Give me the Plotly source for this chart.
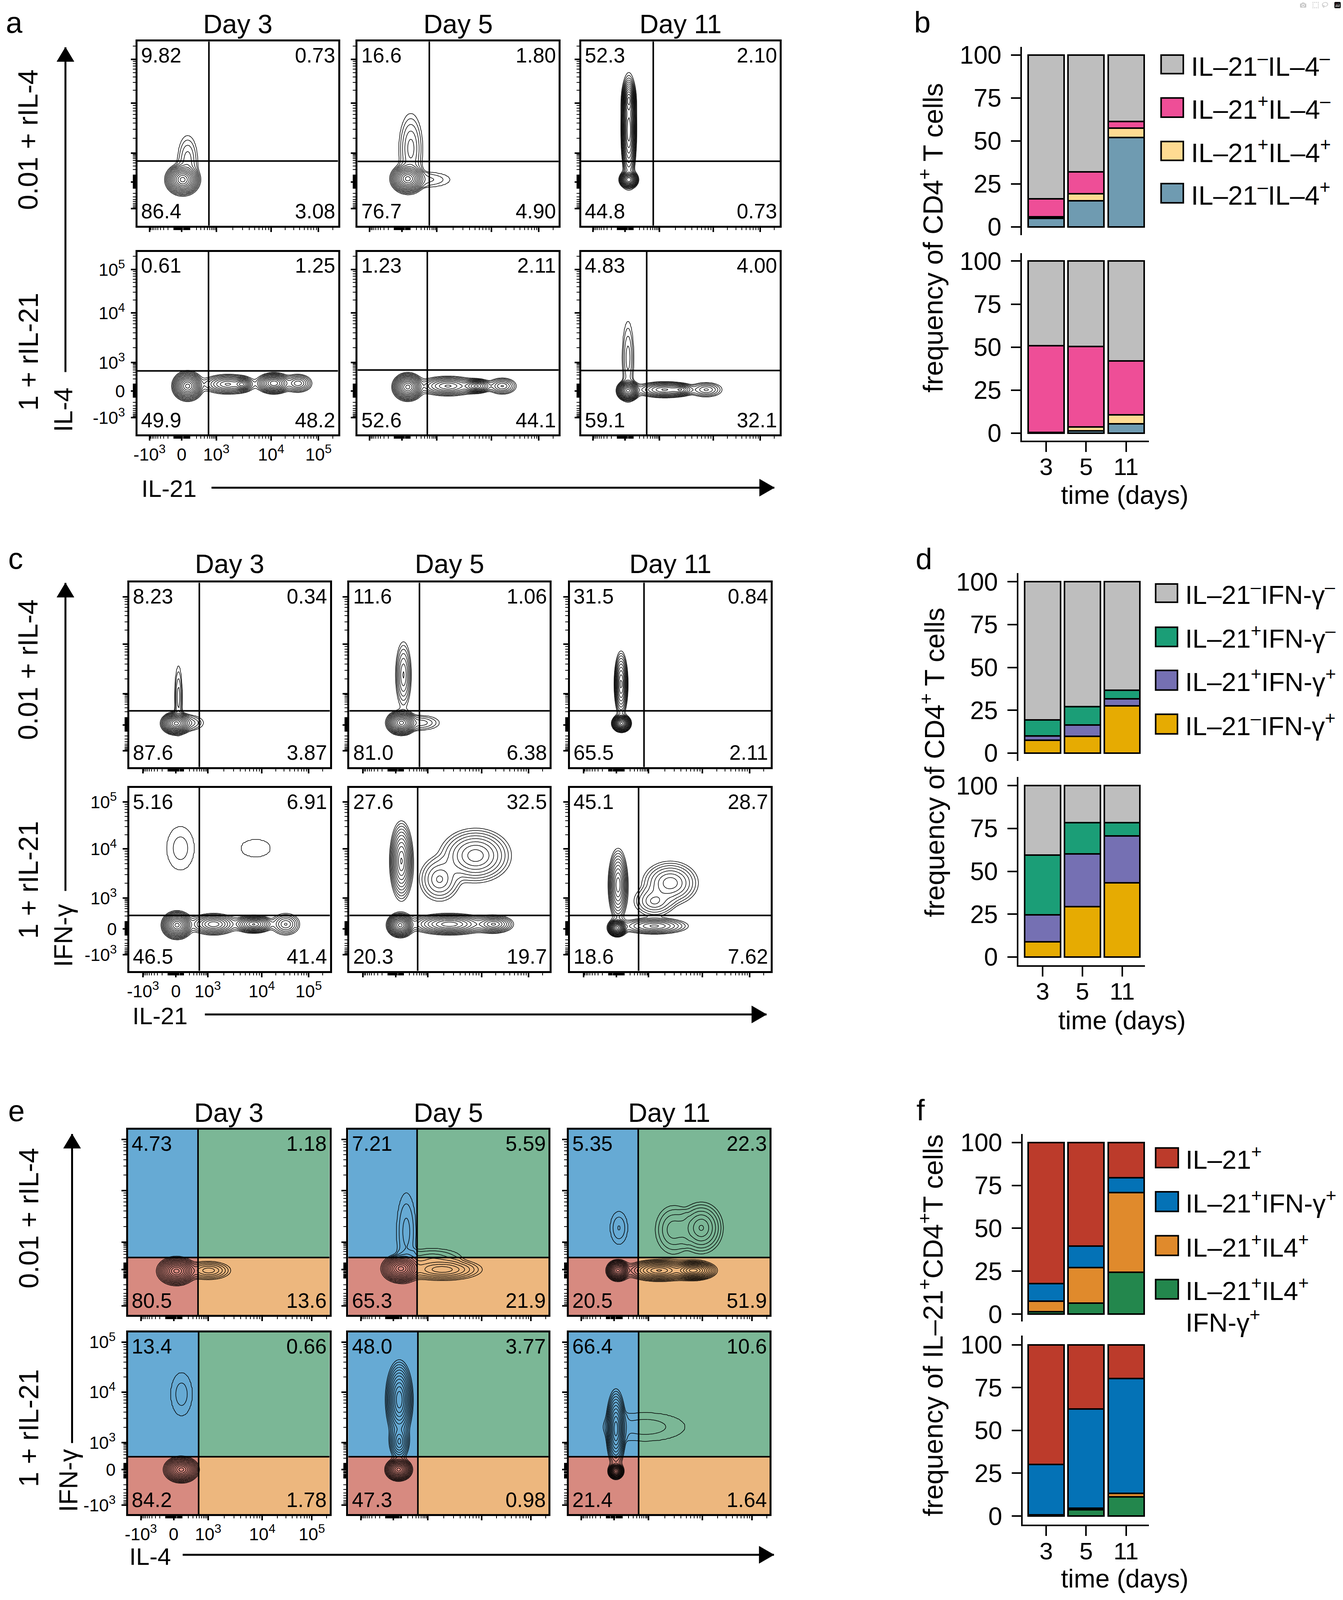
import numpy as np
import plotly.graph_objects as go

W, H_REF = 3438, 4447          # reference geometry (all pixel positions below are in these units)
H = 4096                       # visible height of the photographed page
FONT = "Liberation Sans, Arial, Helvetica, sans-serif"

# ======================= DATA =======================
DAYS = ["Day 3", "Day 5", "Day 11"]
TREATMENTS = ["0.01 + rIL-4", "1 + rIL-21"]
TIME = ["3", "5", "11"]
FLOW_TICK_VALUES = [-1e3, 0, 1e3, 1e4, 1e5]
FLOW_TICK_TEXT = ["-10<sup>3</sup>", "0", "10<sup>3</sup>", "10<sup>4</sup>", "10<sup>5</sup>"]

# quadrant percentages (upper-left, upper-right, lower-left, lower-right)
A_QUAD = [[("9.82", "0.73", "86.4", "3.08"), ("16.6", "1.80", "76.7", "4.90"), ("52.3", "2.10", "44.8", "0.73")],
          [("0.61", "1.25", "49.9", "48.2"), ("1.23", "2.11", "52.6", "44.1"), ("4.83", "4.00", "59.1", "32.1")]]
C_QUAD = [[("8.23", "0.34", "87.6", "3.87"), ("11.6", "1.06", "81.0", "6.38"), ("31.5", "0.84", "65.5", "2.11")],
          [("5.16", "6.91", "46.5", "41.4"), ("27.6", "32.5", "20.3", "19.7"), ("45.1", "28.7", "18.6", "7.62")]]
E_QUAD = [[("4.73", "1.18", "80.5", "13.6"), ("7.21", "5.59", "65.3", "21.9"), ("5.35", "22.3", "20.5", "51.9")],
          [("13.4", "0.66", "84.2", "1.78"), ("48.0", "3.77", "47.3", "0.98"), ("66.4", "10.6", "21.4", "1.64")]]

# cell populations: (x, y, half-width x, half-width y, peak) in display units
A_POP_RIL4 = [
    [(0.225, 0.25, 0.09, 0.09, 1.0), (0.25, 0.36, 0.05, 0.13, 0.02)],
    [(0.25, 0.255, 0.09, 0.085, 1.0), (0.265, 0.42, 0.06, 0.19, 0.03), (0.36, 0.25, 0.10, 0.04, 0.01)],
    [(0.24, 0.25, 0.05, 0.05, 0.8), (0.24, 0.52, 0.04, 0.30, 0.5), (0.24, 0.68, 0.035, 0.12, 0.6)],
]
A_POP_RIL21 = [
    [(0.25, 0.265, 0.08, 0.085, 1.0), (0.45, 0.275, 0.13, 0.055, 0.15), (0.52, 0.275, 0.05, 0.04, 0.25),
     (0.68, 0.28, 0.09, 0.06, 0.5), (0.80, 0.28, 0.07, 0.05, 0.08)],
    [(0.25, 0.26, 0.08, 0.08, 1.0), (0.45, 0.265, 0.15, 0.055, 0.15), (0.59, 0.265, 0.08, 0.04, 0.25),
     (0.72, 0.265, 0.07, 0.045, 0.06)],
    [(0.236, 0.24, 0.06, 0.06, 1.0), (0.236, 0.42, 0.03, 0.20, 0.02), (0.42, 0.245, 0.15, 0.045, 0.15),
     (0.50, 0.245, 0.06, 0.03, 0.12), (0.63, 0.245, 0.08, 0.04, 0.04)],
]
C_POP_RIL4 = [
    [(0.234, 0.237, 0.08, 0.065, 1.0), (0.245, 0.38, 0.02, 0.17, 0.02), (0.30, 0.24, 0.07, 0.04, 0.02)],
    [(0.26, 0.24, 0.08, 0.07, 1.0), (0.27, 0.50, 0.04, 0.18, 0.06), (0.36, 0.24, 0.09, 0.04, 0.02)],
    [(0.257, 0.237, 0.05, 0.05, 1.0), (0.255, 0.45, 0.035, 0.18, 0.25)],
]
C_POP_RIL21 = [
    [(0.238, 0.25, 0.08, 0.08, 1.0), (0.42, 0.255, 0.12, 0.06, 0.2), (0.62, 0.255, 0.10, 0.05, 0.35),
     (0.78, 0.255, 0.07, 0.06, 0.06), (0.255, 0.67, 0.07, 0.12, 0.008), (0.63, 0.67, 0.075, 0.05, 0.005)],
    [(0.254, 0.25, 0.07, 0.07, 1.0), (0.26, 0.60, 0.06, 0.22, 0.35), (0.50, 0.255, 0.20, 0.06, 0.3),
     (0.72, 0.255, 0.10, 0.05, 0.15), (0.63, 0.63, 0.18, 0.15, 0.12), (0.45, 0.50, 0.10, 0.12, 0.04)],
    [(0.236, 0.235, 0.05, 0.05, 1.0), (0.24, 0.47, 0.05, 0.20, 0.3), (0.42, 0.245, 0.17, 0.045, 0.1),
     (0.50, 0.48, 0.14, 0.12, 0.08), (0.42, 0.38, 0.10, 0.08, 0.04)],
]
E_POP_RIL4 = [
    [(0.24, 0.237, 0.10, 0.08, 1.0), (0.40, 0.24, 0.11, 0.05, 0.05)],
    [(0.263, 0.25, 0.10, 0.08, 1.0), (0.47, 0.245, 0.20, 0.06, 0.08), (0.29, 0.45, 0.05, 0.21, 0.012),
     (0.42, 0.31, 0.14, 0.05, 0.012)],
    [(0.245, 0.24, 0.06, 0.06, 1.0), (0.45, 0.24, 0.17, 0.06, 0.35), (0.62, 0.24, 0.12, 0.055, 0.7),
     (0.25, 0.47, 0.045, 0.09, 0.01), (0.66, 0.47, 0.11, 0.14, 0.06), (0.52, 0.46, 0.09, 0.13, 0.02)],
]
E_POP_RIL21 = [
    [(0.264, 0.245, 0.09, 0.075, 1.0), (0.265, 0.66, 0.055, 0.12, 0.008)],
    [(0.252, 0.245, 0.07, 0.065, 1.0), (0.255, 0.63, 0.07, 0.22, 0.5), (0.255, 0.40, 0.05, 0.10, 0.1)],
    [(0.235, 0.236, 0.04, 0.045, 1.0), (0.235, 0.47, 0.05, 0.22, 0.45), (0.38, 0.48, 0.20, 0.08, 0.008)],
]

# gate positions (display units)
A_GATE_X = [[0.356, 0.357, 0.363], [0.354, 0.347, 0.33]]
A_GATE_Y = [[0.351, 0.349, 0.35], [0.348, 0.353, 0.35]]
C_GATE_X = [[0.349, 0.35, 0.369], [0.349, 0.341, 0.342]]
C_GATE_Y = [[0.305, 0.305, 0.305], [0.303, 0.303, 0.303]]
E_GATE_X = [[0.347, 0.344, 0.346], [0.35, 0.348, 0.348]]
E_GATE_Y = [[0.31, 0.31, 0.31], [0.316, 0.316, 0.316]]

# stacked bars (%), bottom segment first
B_LABELS = ["IL–21<sup>–</sup>IL–4<sup>+</sup>", "IL–21<sup>+</sup>IL–4<sup>+</sup>",
            "IL–21<sup>+</sup>IL–4<sup>–</sup>", "IL–21<sup>–</sup>IL–4<sup>–</sup>"]
B_RIL4_IL21nIL4p = [5.0, 15.2, 51.9]
B_RIL4_IL21pIL4p = [0.8, 4.2, 5.6]
B_RIL4_IL21pIL4n = [10.6, 12.6, 3.8]
B_RIL4_IL21nIL4n = [83.6, 68.0, 38.7]
B_RIL21_IL21nIL4p = [0.2, 1.3, 5.5]
B_RIL21_IL21pIL4p = [0.3, 2.3, 5.2]
B_RIL21_IL21pIL4n = [50.3, 46.8, 31.2]
B_RIL21_IL21nIL4n = [49.2, 49.6, 58.1]

D_LABELS = ["IL–21<sup>–</sup>IFN-γ<sup>+</sup>", "IL–21<sup>+</sup>IFN-γ<sup>+</sup>",
            "IL–21<sup>+</sup>IFN-γ<sup>–</sup>", "IL–21<sup>–</sup>IFN-γ<sup>–</sup>"]
D_RIL4_IL21nIFNp = [7.6, 9.9, 27.5]
D_RIL4_IL21pIFNp = [2.4, 6.6, 4.1]
D_RIL4_IL21pIFNn = [9.3, 10.6, 5.0]
D_RIL4_IL21nIFNn = [80.7, 72.9, 63.4]
D_RIL21_IL21nIFNp = [8.9, 29.4, 43.3]
D_RIL21_IL21pIFNp = [15.8, 30.8, 27.3]
D_RIL21_IL21pIFNn = [34.8, 18.2, 7.7]
D_RIL21_IL21nIFNn = [40.5, 21.6, 21.7]

F_LABELS = ["IL–21<sup>+</sup>IL4<sup>+</sup>", "IL–21<sup>+</sup>IL4<sup>+</sup>",
            "IL–21<sup>+</sup>IFN-γ<sup>+</sup>", "IL–21<sup>+</sup>"]
F_RIL4_TRIPLE = [1.5, 6.5, 24.4]
F_RIL4_IL4 = [6.0, 20.6, 46.3]
F_RIL4_IFN = [10.4, 12.6, 8.8]
F_RIL4_ONLY = [82.1, 60.3, 20.5]
F_RIL21_TRIPLE = [0.3, 3.7, 11.2]
F_RIL21_IL4 = [0.3, 1.0, 2.1]
F_RIL21_IFN = [29.5, 57.9, 66.9]
F_RIL21_ONLY = [69.9, 37.4, 19.8]

# ======================= STYLE / LAYOUT =======================
B_COLORS = ["#6f9bb1", "#fedb92", "#ee4e97", "#bebebe"]
D_COLORS = ["#e6ab02", "#7570b3", "#1b9e77", "#bebebe"]
F_COLORS = ["#23874d", "#e08a2c", "#0472b6", "#bc3b2b"]
E_BG = dict(ul="#66aad4", ur="#7bb796", ll="#d78a80", lr="#edb77e")

LMIN = -2.4
GRID = np.linspace(0, 1, 171)


def px_x(p):
    return p / W


def px_y(p):
    return 1 - p / H_REF


def density(pops):
    X, Y = np.meshgrid(GRID, GRID)
    tot = np.zeros_like(X)
    for cx, cy, ex, ey, a in pops:
        r = np.sqrt(((X - cx) / ex) ** 2 + ((Y - cy) / ey) ** 2)
        la = np.log10(a)
        ld = np.where(r <= 1, la - (la - LMIN) * r ** 1.5, LMIN - 2.5 * (r - 1))
        tot += 10 ** ld
    z = np.log10(tot)
    return np.round(np.clip(z, -5, 1), 3)


def scale_fn(p):
    pm, p0, p3, p4, p5 = p
    a = np.arcsinh(1000 / 150)

    def tf(v):
        if v >= 1e4:
            return p4 + (p5 - p4) * np.log10(v / 1e4)
        if v >= 1e3:
            return p3 + (p4 - p3) * np.log10(v / 1e3)
        if v >= 0:
            return p0 + (p3 - p0) * np.arcsinh(v / 150) / a
        return p0 - (p0 - pm) * np.arcsinh(-v / 150) / a
    return tf


def minor_positions(p):
    tf = scale_fn(p)
    vals = [s * m * 10 for m in range(1, 10) for s in (1, -1)]
    vals += [s * m * 100 for m in range(1, 10) for s in (1, -1)]
    vals += [m * 1e3 for m in range(2, 10)] + [m * 1e4 for m in range(2, 10)] + [2e5]
    out = [float(tf(v)) for v in vals]
    return [round(v, 4) for v in out if 0.002 < v < 0.998]


fig = go.Figure()
layout = dict(width=W, height=H, margin=dict(l=0, r=0, t=0, b=0), autosize=False,
              paper_bgcolor="white", plot_bgcolor="white", barmode="stack", showlegend=False,
              font=dict(family=FONT, color="black"))
shapes = []
annotations = []
idx = [0]


def new_axes():
    idx[0] += 1
    s = "" if idx[0] == 1 else str(idx[0])
    return "x" + s, "y" + s, "xaxis" + s, "yaxis" + s


def add_text(x, y, text, size, xanchor="center", yanchor="middle", angle=0, xref="paper", yref="paper"):
    annotations.append(dict(x=x, y=y, xref=xref, yref=yref, text=text, showarrow=False,
                            xanchor=xanchor, yanchor=yanchor, textangle=angle,
                            font=dict(family=FONT, size=size, color="black")))


def arrow(x0, y0, x1, y1, vertical):
    shapes.append(dict(type="line", xref="paper", yref="paper", x0=px_x(x0), y0=px_y(y0),
                       x1=px_x(x1), y1=px_y(y1), line=dict(color="black", width=5)))
    if vertical:
        path = "M {} {} L {} {} L {} {} Z".format(px_x(x1), px_y(y1), px_x(x1 - 22), px_y(y1 + 40),
                                                  px_x(x1 + 22), px_y(y1 + 40))
    else:
        path = "M {} {} L {} {} L {} {} Z".format(px_x(x1), px_y(y1), px_x(x1 - 38), px_y(y1 - 24),
                                                  px_x(x1 - 38), px_y(y1 + 24))
    shapes.append(dict(type="path", xref="paper", yref="paper", path=path, fillcolor="black",
                       line=dict(color="black", width=1)))


FLOW_PANELS = [
    dict(letter="a", letter_xy=(27, 47), quads=A_QUAD, pops=[A_POP_RIL4, A_POP_RIL21], gx=A_GATE_X, gy=A_GATE_Y,
         cols=[(343, 858), (908, 1424), (1482, 1992)], rows=[(100, 616), (689, 1201)],
         xt=[0.06, 0.22, 0.393, 0.666, 0.902], yt=[0.092, 0.238, 0.394, 0.665, 0.903],
         title_y=50, colored=False, row_label_xy=[(62, 375), (64, 969)], yname="IL-4", yname_xy=(153, 1132),
         yarrow=(158, 1026, 116), xname="IL-21", xname_xy=(424, 1352), xarrow=(533, 1978, 1350)),
    dict(letter="c", letter_xy=(30, 1548), quads=C_QUAD, pops=[C_POP_RIL4, C_POP_RIL21], gx=C_GATE_X, gy=C_GATE_Y,
         cols=[(322, 837), (887, 1401), (1453, 1969)], rows=[(1616, 2133), (2191, 2704)],
         xt=[0.068, 0.232, 0.391, 0.66, 0.894], yt=[0.089, 0.229, 0.397, 0.666, 0.922],
         title_y=1563, colored=False, row_label_xy=[(63, 1860), (63, 2449)], yname="IFN-γ", yname_xy=(153, 2605),
         yarrow=(158, 2480, 1617), xname="IL-21", xname_xy=(401, 2830), xarrow=(516, 1958, 2826)),
    dict(letter="e", letter_xy=(32, 3096), quads=E_QUAD, pops=[E_POP_RIL4, E_POP_RIL21], gx=E_GATE_X, gy=E_GATE_Y,
         cols=[(319, 836), (884, 1398), (1450, 1966)], rows=[(3149, 3668), (3717, 4226)],
         xt=[0.063, 0.226, 0.397, 0.666, 0.912], yt=[0.05, 0.245, 0.393, 0.672, 0.947],
         title_y=3101, colored=True, row_label_xy=[(64, 3397), (64, 3985)], yname="IFN-γ", yname_xy=(166, 4132),
         yarrow=(175, 4027, 3161), xname="IL-4", xname_xy=(376, 4345), xarrow=(459, 1977, 4340)),
]

for P in FLOW_PANELS:
    add_text(px_x(P["letter_xy"][0]), px_y(P["letter_xy"][1]), P["letter"], 76)
    for c, (cx0, cx1) in enumerate(P["cols"]):
        add_text(px_x((cx0 + cx1) / 2), px_y(P["title_y"]), DAYS[c], 68)
    for r, (ry0, ry1) in enumerate(P["rows"]):
        add_text(px_x(P["row_label_xy"][r][0]), px_y(P["row_label_xy"][r][1]), TREATMENTS[r], 70, angle=-90)
        for c, (cx0, cx1) in enumerate(P["cols"]):
            xa, ya, xk, yk = new_axes()
            labels = (r == 1 and c == 0)
            tfx = scale_fn(P["xt"])
            tfy = scale_fn(P["yt"])
            xtv = [float(tfx(v)) for v in FLOW_TICK_VALUES]
            ytv = [float(tfy(v)) for v in FLOW_TICK_VALUES]
            common = dict(range=[0, 1], showgrid=False, zeroline=False, showline=True, mirror=True,
                          linecolor="black", linewidth=5, ticks="outside", tickwidth=4,
                          tickcolor="black", tickmode="array", ticktext=FLOW_TICK_TEXT,
                          showticklabels=labels, fixedrange=True,
                          tickfont=dict(family=FONT, size=45, color="black"))
            layout[xk] = dict(common, domain=[px_x(cx0), px_x(cx1)], anchor=ya, tickvals=xtv, ticklen=11,
                              ticklabelstandoff=-3,
                              minor=dict(tickmode="array", tickvals=minor_positions(P["xt"]), ticklen=6,
                                         tickwidth=2, tickcolor="black", ticks="outside", showgrid=False))
            layout[yk] = dict(common, domain=[px_y(ry1), px_y(ry0)], anchor=xa, tickvals=ytv, ticklen=12,
                              ticklabelstandoff=6,
                              minor=dict(tickmode="array", tickvals=minor_positions(P["yt"]), ticklen=7,
                                         tickwidth=2, tickcolor="black", ticks="outside", showgrid=False))
            gx = P["gx"][r][c]
            gy = P["gy"][r][c]
            if P["colored"]:
                for (x0, x1, y0, y1, key) in [(0, gx, gy, 1, "ul"), (gx, 1, gy, 1, "ur"),
                                              (0, gx, 0, gy, "ll"), (gx, 1, 0, gy, "lr")]:
                    shapes.append(dict(type="rect", xref=xa, yref=ya, x0=x0, x1=x1, y0=y0, y1=y1,
                                       fillcolor=E_BG[key], line=dict(width=0), layer="below"))
            z = density(P["pops"][r][c])
            fig.add_trace(go.Contour(x=GRID, y=GRID, z=z, xaxis=xa, yaxis=ya, showscale=False,
                                     autocontour=False,
                                     contours=dict(start=LMIN + 0.001, end=0.0, size=0.19, coloring="lines"),
                                     colorscale=[[0, "black"], [1, "black"]],
                                     line=dict(width=1.5, smoothing=1.0), hoverinfo="skip"))
            shapes.append(dict(type="line", xref=xa, yref=ya, x0=gx, x1=gx, y0=0, y1=1,
                               line=dict(color="black", width=4)))
            shapes.append(dict(type="line", xref=xa, yref=ya, x0=0, x1=1, y0=gy, y1=gy,
                               line=dict(color="black", width=4)))
            ul, ur, ll, lr = P["quads"][r][c]
            add_text(0.014, 0.992, ul, 53, "left", "top", xref=xa, yref=ya)
            add_text(0.99, 0.992, ur, 53, "right", "top", xref=xa, yref=ya)
            add_text(0.014, 0.012, ll, 53, "left", "bottom", xref=xa, yref=ya)
            add_text(0.99, 0.012, lr, 53, "right", "bottom", xref=xa, yref=ya)
    add_text(px_x(P["yname_xy"][0]), px_y(P["yname_xy"][1]), P["yname"], 66, angle=-90)
    yx, yb, yt = P["yarrow"]
    arrow(yx, yb, yx, yt, True)
    add_text(px_x(P["xname_xy"][0]), px_y(P["xname_xy"][1]), P["xname"], 62)
    xl, xr, xy = P["xarrow"]
    arrow(xl, xy, xr, xy, False)

BAR_PANELS = [
    dict(letter="b", letter_xy=(2358, 45), x_px=(2614, 2940), xrange=[-0.605, 2.576],
         charts=[(115, 643, -4.9, 104.7, [B_RIL4_IL21nIL4p, B_RIL4_IL21pIL4p, B_RIL4_IL21pIL4n, B_RIL4_IL21nIL4n]),
                 (693, 1218, -4.3, 104.6, [B_RIL21_IL21nIL4p, B_RIL21_IL21pIL4p, B_RIL21_IL21pIL4n, B_RIL21_IL21nIL4n])],
         colors=B_COLORS, labels=B_LABELS, ytitle="frequency of CD4<sup>+</sup> T cells", ytitle_xy=(2380, 650),
         xtitle_xy=(2877, 1370),
         legend=dict(x0=2971, x1=3028, tx=3046, ys=[(138, 190), (258, 312), (380, 433), (498, 552)],
                     order=[3, 2, 1, 0], size=68)),
    dict(letter="d", letter_xy=(2362, 1549), x_px=(2605, 2930), xrange=[-0.608, 2.578],
         charts=[(1589, 2116, -4.6, 105.1, [D_RIL4_IL21nIFNp, D_RIL4_IL21pIFNp, D_RIL4_IL21pIFNn, D_RIL4_IL21nIFNn]),
                 (2161, 2688, -4.75, 104.95, [D_RIL21_IL21nIFNp, D_RIL21_IL21pIFNp, D_RIL21_IL21pIFNn, D_RIL21_IL21nIFNn])],
         colors=D_COLORS, labels=D_LABELS, ytitle="frequency of CD4<sup>+</sup> T cells", ytitle_xy=(2384, 2120),
         xtitle_xy=(2870, 2842),
         legend=dict(x0=2957, x1=3013, tx=3031, ys=[(1620, 1671), (1741, 1795), (1862, 1917), (1985, 2040)],
                     order=[3, 2, 1, 0], size=67)),
    dict(letter="f", letter_xy=(2354, 3094), x_px=(2616, 2940), xrange=[-0.585, 2.576],
         charts=[(3161, 3686, -4.2, 104.9, [F_RIL4_TRIPLE, F_RIL4_IL4, F_RIL4_IFN, F_RIL4_ONLY]),
                 (3726, 4256, -5.1, 105.3, [F_RIL21_TRIPLE, F_RIL21_IL4, F_RIL21_IFN, F_RIL21_ONLY])],
         colors=F_COLORS, labels=F_LABELS, ytitle="frequency of IL–21<sup>+</sup>CD4<sup>+</sup>T cells",
         ytitle_xy=(2380, 3697), xtitle_xy=(2877, 4406),
         legend=dict(x0=2957, x1=3015, tx=3032, ys=[(3200, 3255), (3323, 3378), (3446, 3501), (3569, 3623)],
                     order=[3, 2, 1, 0], size=67)),
]

for P in BAR_PANELS:
    add_text(px_x(P["letter_xy"][0]), px_y(P["letter_xy"][1]), P["letter"], 76)
    for k, (y0, y1, lo, hi, series) in enumerate(P["charts"]):
        xa, ya, xk, yk = new_axes()
        bottom = (k == len(P["charts"]) - 1)
        layout[xk] = dict(domain=[px_x(P["x_px"][0]), px_x(P["x_px"][1])], anchor=ya, type="category",
                          categoryorder="array", categoryarray=TIME, range=P["xrange"],
                          showgrid=False, zeroline=False, showline=bottom, linecolor="black", linewidth=4,
                          ticks="outside" if bottom else "", ticklen=25, tickwidth=4, tickcolor="black",
                          showticklabels=bottom, ticklabelstandoff=-15, fixedrange=True,
                          tickfont=dict(family=FONT, size=62, color="black"))
        layout[yk] = dict(domain=[px_y(y1), px_y(y0)], anchor=xa, range=[lo, hi], showgrid=False, zeroline=False,
                          showline=True, linecolor="black", linewidth=4, ticks="outside", ticklen=24,
                          tickwidth=4, tickcolor="black", tickmode="array", tickvals=[0, 25, 50, 75, 100],
                          ticklabelstandoff=12, fixedrange=True,
                          tickfont=dict(family=FONT, size=64, color="black"))
        for vals, color in zip(series, P["colors"]):
            fig.add_trace(go.Bar(x=TIME, y=vals, xaxis=xa, yaxis=ya, width=0.9,
                                 marker=dict(color=color, line=dict(color="black", width=4)),
                                 hoverinfo="skip"))
    add_text(px_x(P["ytitle_xy"][0]), px_y(P["ytitle_xy"][1]), P["ytitle"], 70, angle=-90)
    add_text(px_x(P["xtitle_xy"][0]), px_y(P["xtitle_xy"][1]), "time (days)", 66)
    L = P["legend"]
    for row, si in enumerate(L["order"]):
        ya0, ya1 = L["ys"][row]
        shapes.append(dict(type="rect", xref="paper", yref="paper", x0=px_x(L["x0"]), x1=px_x(L["x1"]),
                           y0=px_y(ya1), y1=px_y(ya0), fillcolor=P["colors"][si],
                           line=dict(color="black", width=4)))
        add_text(px_x(L["tx"]), px_y((ya0 + ya1) / 2), P["labels"][si], L["size"], "left", "middle")
    if P["letter"] == "f":
        add_text(px_x(L["tx"]), px_y(3684), "IFN-γ<sup>+</sup>", L["size"], "left", "middle")

layout["shapes"] = shapes
layout["annotations"] = annotations
fig.update_layout(**layout)

fig.write_html("out.html", post_script="document.body.style.margin='0';document.body.style.overflow='hidden';")
